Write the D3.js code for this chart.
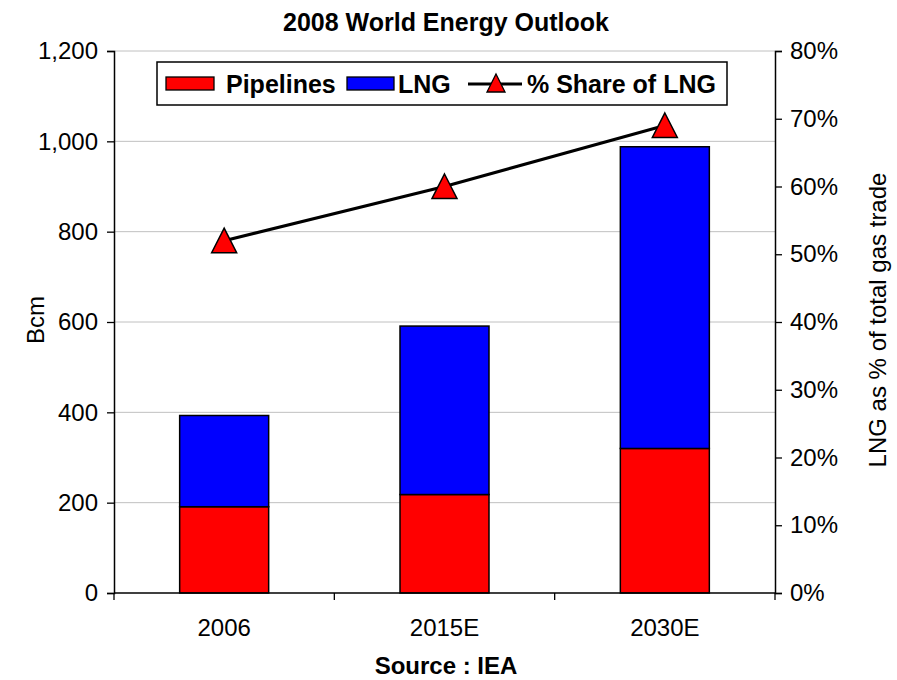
<!DOCTYPE html>
<html><head><meta charset="utf-8">
<script src="https://cdn.jsdelivr.net/npm/d3@7"></script>
<style>body{margin:0;background:#fff}svg{display:block}text{font-family:"Liberation Sans",Arial,sans-serif;fill:#000}</style>
</head><body>
<svg id="c" width="897" height="680"></svg>
<script>
const categories = ["2006", "2015E", "2030E"];
const pipelines = [191, 218, 320];
const lng = [202, 373, 668];
const shareLNG = [52, 60, 69];
const leftTicks = [0, 200, 400, 600, 800, 1000, 1200];
const rightTicks = [0, 10, 20, 30, 40, 50, 60, 70, 80];

const svg = d3.select("#c");
const L = 114, R = 775, T = 51, B = 593;

const xOuter = d3.scaleBand().domain(categories).range([L, R]);
const y = d3.scaleLinear().domain([0, 1200]).range([B, T]);
const y2 = d3.scaleLinear().domain([0, 80]).range([B, T]);

// gridlines
svg.append("g").selectAll("line").data(leftTicks.filter(d => d > 0)).join("line")
  .attr("x1", L).attr("x2", R).attr("y1", d => y(d)).attr("y2", d => y(d))
  .attr("stroke", "#c0c0c0").attr("stroke-width", 1);

// bars
const stacked = categories.map((c, i) => ({c, p: pipelines[i], l: lng[i]}));
const bars = svg.append("g");
bars.selectAll("rect.p").data(stacked).join("rect").attr("class", "p")
  .attr("x", d => xOuter(d.c) + xOuter.bandwidth()/2 - 44.5).attr("width", 89)
  .attr("y", d => y(d.p)).attr("height", d => y(0) - y(d.p))
  .attr("fill", "#ff0000").attr("stroke", "#000").attr("stroke-width", 1.5);
bars.selectAll("rect.l").data(stacked).join("rect").attr("class", "l")
  .attr("x", d => xOuter(d.c) + xOuter.bandwidth()/2 - 44.5).attr("width", 89)
  .attr("y", d => y(d.p + d.l)).attr("height", d => y(d.p) - y(d.p + d.l))
  .attr("fill", "#0000ff").attr("stroke", "#000").attr("stroke-width", 1.5);

// axes
const font = "24px";
const ax = svg.append("g").attr("transform", `translate(${L},0)`)
  .call(d3.axisLeft(y).tickValues(leftTicks).tickSize(7).tickPadding(9).tickFormat(d3.format(",")));
const ax2 = svg.append("g").attr("transform", `translate(${R},0)`)
  .call(d3.axisRight(y2).tickValues(rightTicks).tickSize(7).tickPadding(8).tickFormat(d => d + "%"));
const axb = svg.append("g").attr("transform", `translate(0,${B})`)
  .call(d3.axisBottom(xOuter).tickSize(0).tickPadding(26));
// x category separator ticks
svg.append("g").selectAll("line").data(categories.concat(["end"])).join("line")
  .attr("x1", (d, i) => L + i * xOuter.bandwidth()).attr("x2", (d, i) => L + i * xOuter.bandwidth())
  .attr("y1", B).attr("y2", B + 7).attr("stroke", "#000").attr("stroke-width", 1.3);
[ax, ax2, axb].forEach(g => {
  g.selectAll("path.domain").attr("stroke", "#000").attr("stroke-width", 1.5);
  g.selectAll(".tick line").attr("stroke", "#000").attr("stroke-width", 1.3);
  g.selectAll("text").style("font-family", '"Liberation Sans",Arial,sans-serif').style("font-size", font).attr("fill", "#000");
});
axb.select("path.domain").remove();
svg.append("line").attr("x1", L).attr("x2", R).attr("y1", B).attr("y2", B).attr("stroke", "#000").attr("stroke-width", 1.5);

// line
const cx = c => xOuter(c) + xOuter.bandwidth()/2;
svg.append("path").datum(categories.map((c, i) => [cx(c), y2(shareLNG[i])]))
  .attr("d", d3.line()).attr("fill", "none").attr("stroke", "#000").attr("stroke-width", 3);
const tri = "M0,-12.5L12.5,12L-12.5,12Z";
svg.append("g").selectAll("path").data(categories).join("path")
  .attr("transform", (c, i) => `translate(${cx(c)},${y2(shareLNG[i])})`)
  .attr("d", tri).attr("fill", "#ff0000").attr("stroke", "#000").attr("stroke-width", 1.5);

// titles
svg.append("text").attr("x", 446).attr("y", 31).attr("text-anchor", "middle")
  .style("font-size", "25px").style("font-weight", "bold").text("2008 World Energy Outlook");
svg.append("text").attr("transform", "translate(44,320) rotate(-90)").attr("text-anchor", "middle")
  .style("font-size", "24px").text("Bcm");
svg.append("text").attr("transform", "translate(886,320) rotate(-90)").attr("text-anchor", "middle")
  .style("font-size", "24px").text("LNG as % of total gas trade");
svg.append("text").attr("x", 446).attr("y", 674).attr("text-anchor", "middle")
  .style("font-size", "24px").style("font-weight", "bold").text("Source : IEA");

// legend
const lg = svg.append("g");
lg.append("rect").attr("x", 157).attr("y", 62).attr("width", 570).attr("height", 43)
  .attr("fill", "#fff").attr("stroke", "#000").attr("stroke-width", 1.5);
lg.append("rect").attr("x", 166).attr("y", 77).attr("width", 48).attr("height", 13)
  .attr("fill", "#ff0000").attr("stroke", "#000").attr("stroke-width", 1.3);
lg.append("text").attr("x", 226).attr("y", 93).style("font-size", "25px").style("font-weight", "bold").text("Pipelines");
lg.append("rect").attr("x", 347).attr("y", 77).attr("width", 47).attr("height", 13)
  .attr("fill", "#0000ff").attr("stroke", "#000").attr("stroke-width", 1.3);
lg.append("text").attr("x", 398).attr("y", 93).style("font-size", "25px").style("font-weight", "bold").text("LNG");
lg.append("line").attr("x1", 468).attr("x2", 522).attr("y1", 84).attr("y2", 84).attr("stroke", "#000").attr("stroke-width", 3);
lg.append("path").attr("transform", "translate(496,84)").attr("d", "M0,-10L9,8L-9,8Z")
  .attr("fill", "#ff0000").attr("stroke", "#000").attr("stroke-width", 1.3);
lg.append("text").attr("x", 527).attr("y", 93).style("font-size", "25px").style("font-weight", "bold").text("% Share of LNG");
</script>
</body></html>
